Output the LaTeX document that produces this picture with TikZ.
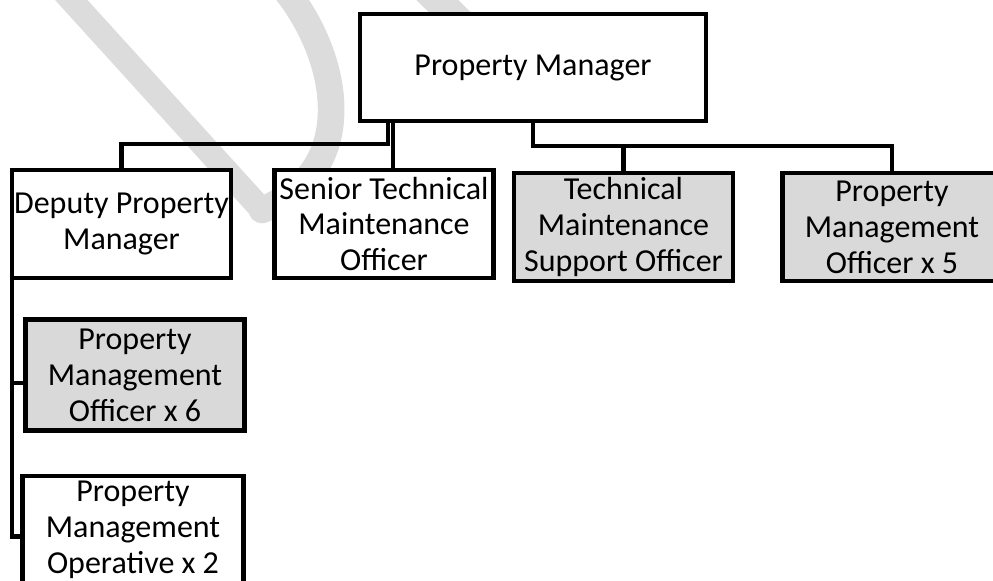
\documentclass[tikz,border=0pt]{standalone}
\usepackage{fontspec}
\setmainfont{Carlito}
\usepackage{xcolor}
\usepackage{tikz}
\usetikzlibrary{calc}

\definecolor{boxgray}{HTML}{D9D9D9}
\definecolor{markgray}{HTML}{DCDCDC}

\begin{document}
\begin{tikzpicture}[
    x=0.75pt, y=-0.75pt,
    every node/.style={font=\fontsize{24}{27}\selectfont},
    role/.style={rectangle, draw, line width=3.4pt, fill=white, align=center, inner sep=0pt, minimum width=164pt, minimum height=81pt},
    filled/.style={role, fill=boxgray},
    link/.style={draw, line width=3.4pt},
    watermark/.style={draw=markgray, line width=18pt, line cap=round}
]
\useasboundingbox (0,0) rectangle (993,581);
% Faint watermark behind the chart
\draw[watermark] (64,-8) -- (262,210);
\draw[watermark, line width=20pt] (287,-8) .. controls (340,60) and (360,170) .. (262,210);
\draw[watermark, line width=22pt] (425,-12) -- (468,30);
% Roles
\node[role, minimum width=259.5pt, minimum height=80pt] (pm) at (533,67.5) {Property Manager};
\node[role] (dep) at (121.5,224) {Deputy Property\\Manager};
\node[role] (sen) at (384,224) {Senior Technical\\Maintenance\\Officer};
\node[filled] (tmso) at (623.5,227) {Technical\\Maintenance\\Support Officer};
\node[filled] (pmo5) at (892,227) {Property\\Management\\Officer x 5};
\node[filled, minimum height=83pt] (pmo6) at (135,375) {Property\\Management\\Officer x 6};
\node[role, minimum width=166pt] (op) at (133,530) {Property\\Management\\Operative x 2};
% Bars
\coordinate (lbar) at (0,144);
\coordinate (rbar) at (0,146);
% Links from the manager
\draw[link] ([xshift=-108.75pt]pm.south) coordinate (pmL) -- (pmL |- lbar) -| (dep.north);
\draw[link] ([xshift=-105pt]pm.south) coordinate (pmS) -- (pmS |- sen.north);
\draw[link] (pm.south) -- (pm.south |- rbar) -| (pmo5.north);
\draw[link] (tmso.north) -- (tmso.north |- rbar);
% Links from the deputy
\draw[link] ([xshift=1.7pt]dep.south west) |- ([yshift=-6pt]pmo6.west);
\draw[link] ([xshift=1.7pt]dep.south west) |- ([yshift=-5pt]op.west);
\end{tikzpicture}
\end{document}
